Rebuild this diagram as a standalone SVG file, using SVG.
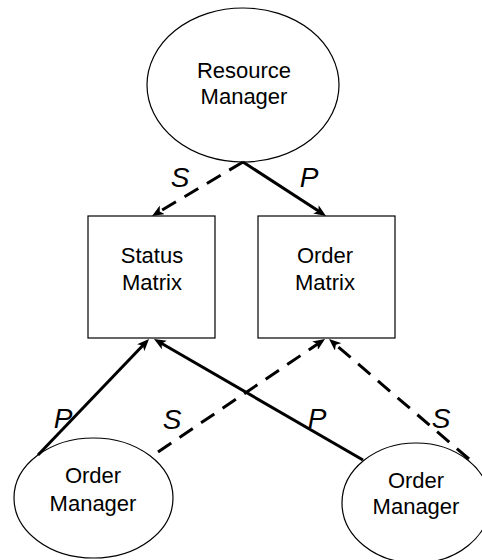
<svg xmlns="http://www.w3.org/2000/svg" width="482" height="560" viewBox="0 0 482 560">
<style>
.node{fill:#fff;stroke:#000;stroke-width:1.2}
.t{font-family:"Liberation Sans",Arial,sans-serif;font-size:22px;fill:#000;text-anchor:middle}
.lbl{font-family:"Liberation Sans",Arial,sans-serif;font-size:28px;font-style:italic;fill:#000;text-anchor:middle}
.e{fill:none;stroke:#000;stroke-width:3}
.d{stroke-dasharray:16 10}
</style>
<defs>
<marker id="ah" viewBox="0 0 12 10" refX="4" refY="5" markerWidth="12" markerHeight="10" markerUnits="userSpaceOnUse" orient="auto">
<path d="M0,0 L12,5 L0,10 L3,5 z" fill="#000"/>
</marker>
</defs>
<rect width="482" height="560" fill="#fff"/>
<g id="resource-manager">
<ellipse class="node" cx="243" cy="85" rx="96" ry="77"/>
<text class="t" x="244" y="78">Resource</text>
<text class="t" x="244" y="104">Manager</text>
</g>
<g id="status-matrix">
<rect class="node" x="88" y="216" width="127" height="122"/>
<text class="t" x="152" y="263">Status</text>
<text class="t" x="152" y="290">Matrix</text>
</g>
<g id="order-matrix">
<rect class="node" x="258" y="216" width="137" height="122"/>
<text class="t" x="325" y="263">Order</text>
<text class="t" x="325" y="290">Matrix</text>
</g>
<g id="order-manager-left">
<ellipse class="node" cx="93.5" cy="498" rx="79.5" ry="60"/>
<text class="t" x="93" y="483">Order</text>
<text class="t" x="93" y="511">Manager</text>
</g>
<g id="order-manager-right">
<ellipse class="node" cx="416" cy="503" rx="74" ry="60"/>
<text class="t" x="416" y="488">Order</text>
<text class="t" x="416" y="514">Manager</text>
</g>
<g id="connectors">
<path class="e d" d="M243,162 L158.9,211.9" marker-end="url(#ah)"/>
<path class="e" d="M243,162 L319.3,211.6" marker-end="url(#ah)"/>
<path class="e" d="M38,455 L143.5,344.8" marker-end="url(#ah)"/>
<path class="e d" d="M158,452 L318.4,343.5" marker-end="url(#ah)"/>
<path class="e" d="M363,460 L160.9,343" marker-end="url(#ah)"/>
<path class="e d" d="M469,459 L335.1,344.2" marker-end="url(#ah)"/>
<text class="lbl" x="180" y="187">S</text>
<text class="lbl" x="309" y="187">P</text>
<text class="lbl" x="63" y="428">P</text>
<text class="lbl" x="172" y="429">S</text>
<text class="lbl" x="317" y="428">P</text>
<text class="lbl" x="441" y="428">S</text>
</g>
</svg>
